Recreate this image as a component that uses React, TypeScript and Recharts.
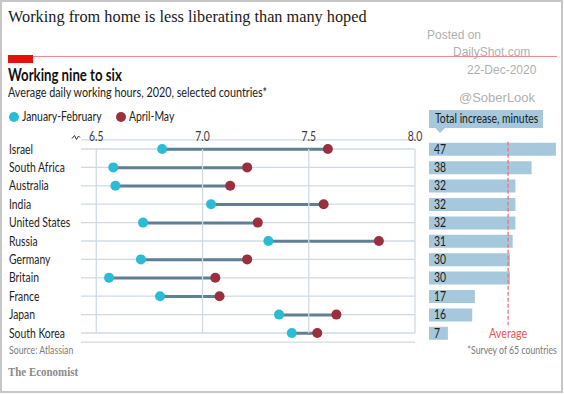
import React from 'react';
import {
  ComposedChart,
  BarChart,
  Bar,
  Line,
  XAxis,
  YAxis,
  CartesianGrid,
  ReferenceLine,
  LabelList,
} from 'recharts';

const countries = [
  'Israel',
  'South Africa',
  'Australia',
  'India',
  'United States',
  'Russia',
  'Germany',
  'Britain',
  'France',
  'Japan',
  'South Korea',
];
const janFeb = [6.81, 6.58, 6.59, 7.04, 6.72, 7.31, 6.71, 6.56, 6.8, 7.36, 7.42];
const aprMay = [7.59, 7.21, 7.13, 7.57, 7.26, 7.83, 7.21, 7.06, 7.08, 7.63, 7.54];
const increaseMinutes = [47, 38, 32, 32, 32, 31, 30, 30, 17, 16, 7];
const averageIncrease = 29.3;
const hourTicks = [6.5, 7.0, 7.5, 8.0];
const hourDomain = [6.428, 8.0];
const minuteDomain = [0, 50];

const data = countries.map((c, i) => ({
  country: c,
  jan: janFeb[i],
  apr: aprMay[i],
  range: [janFeb[i], aprMay[i]],
  inc: increaseMinutes[i],
}));

const TEAL = '#2bbcd5';
const MAROON = '#9a2f3e';
const STEM = '#5f7f95';
const GRID = '#cfdbe4';
const BAR = '#a6c8dc';
const RED = '#e3120b';
const SANS = 'Lato, "Open Sans", sans-serif';
const SERIF = '"Liberation Serif", "DejaVu Serif", serif';
const SQ = 0.83; // horizontal condensing of the sans text

const W = 564;
const H = 394;
const TOP = 139.8;
const BOTTOM = H - 342.2;
const LEFT_TEXT = 8;
const YAXIS_W = 73;

const CountryTick = (props: any) => {
  const { y, payload } = props;
  return (
    <text
      transform={`translate(${LEFT_TEXT + 1},${y + 4.5}) scale(${SQ},1)`}
      textAnchor="start"
      fill="#1e1e1e"
      fontSize={12.5}
      fontFamily={SANS}
    >
      {payload.value}
    </text>
  );
};

const HourTick = (props: any) => {
  const { x, y, payload } = props;
  return (
    <text
      transform={`translate(${x},${y + 5}) scale(${SQ},1)`}
      textAnchor="middle"
      fill="#3a3a3a"
      fontSize={12.5}
      fontFamily={SANS}
    >
      {payload.value.toFixed(1)}
    </text>
  );
};

const BarValue = (props: any) => {
  const { x, y, height, value } = props;
  return (
    <text
      transform={`translate(${x + 5},${y + height / 2 + 4.3}) scale(${SQ},1)`}
      textAnchor="start"
      fill="#1a1a1a"
      fontSize={12.5}
      fontFamily={SANS}
    >
      {value}
    </text>
  );
};

const AvgShape = (props: any) => {
  const { x1, y1, y2 } = props;
  const top = Math.min(y1, y2);
  const bottom = Math.max(y1, y2);
  return (
    <g>
      <line x1={x1} y1={top + 2} x2={x1} y2={bottom - 17} stroke="#e4787b" strokeWidth={1.3} strokeDasharray="4 2" />
      <text
        transform={`translate(${x1},${bottom - 4}) scale(${SQ},1)`}
        textAnchor="middle"
        fill="#e5585b"
        fontSize={13}
        fontFamily={SANS}
      >
        Average
      </text>
    </g>
  );
};

const CText = ({
  left,
  top,
  size,
  children,
  color = '#222',
  weight = 400,
  align = 'left',
  family = SANS,
  sx = SQ,
}: any) => (
  <div
    style={{
      position: 'absolute',
      left: align === 'left' ? left : undefined,
      right: align === 'right' ? W - left : undefined,
      top,
      whiteSpace: 'nowrap',
      lineHeight: 1,
      fontFamily: family,
      fontSize: size,
      fontWeight: weight,
      color,
      transform: `scaleX(${sx})`,
      transformOrigin: align === 'right' ? 'right' : 'left',
    }}
  >
    {children}
  </div>
);

const WM = '"Liberation Sans", Arial, sans-serif';

export default function App() {
  return (
    <div
      style={{
        position: 'absolute',
        left: 0,
        top: 0,
        width: W,
        height: H,
        background: '#fff',
        overflow: 'hidden',
      }}
    >
      {/* outer frame */}
      <div
        style={{
          position: 'absolute',
          left: 0,
          top: 0,
          width: 563,
          height: 393,
          border: '2px solid #c6c6c6',
          boxSizing: 'border-box',
        }}
      />
      <CText left={8} top={9} size={16.3} family={SERIF} color="#1a1a1a" sx={1}>
        Working from home is less liberating than many hoped
      </CText>

      {/* watermark */}
      <CText left={427} top={29} size={12} family={WM} color="#b0b0b0" sx={1}>Posted on</CText>
      <CText left={453} top={46} size={12} family={WM} color="#b0b0b0" sx={1}>DailyShot.com</CText>
      <CText left={467} top={64} size={12} family={WM} color="#b0b0b0" sx={1}>22-Dec-2020</CText>
      <CText left={459} top={91} size={13} family={WM} color="#b0b0b0" sx={1}>@SoberLook</CText>

      {/* red rule */}
      <div style={{ position: 'absolute', left: 8, top: 55.5, width: 549, height: 1, background: '#f08a8a' }} />
      <div style={{ position: 'absolute', left: 8, top: 55, width: 25, height: 8, background: RED }} />

      <CText left={8} top={67} size={16.5} weight={700} color="#111" sx={0.8}>Working nine to six</CText>
      <CText left={8} top={86} size={13} color="#222">
        Average daily working hours, 2020, selected countries*
      </CText>

      {/* legend */}
      <div style={{ position: 'absolute', left: 9, top: 112, width: 10, height: 10, borderRadius: 5, background: TEAL }} />
      <CText left={22} top={111} size={12.5}>January-February</CText>
      <div style={{ position: 'absolute', left: 116, top: 112, width: 10, height: 10, borderRadius: 5, background: MAROON }} />
      <CText left={129} top={111} size={12.5}>April-May</CText>

      {/* axis break mark */}
      <svg style={{ position: 'absolute', left: 0, top: 0 }} width={W} height={H}>
        <path d="M72 138.5 L74.5 135.5 L76.5 139.5 L78.5 136 L80 137.5" fill="none" stroke="#333" strokeWidth={1} />
      </svg>

      {/* dumbbell chart */}
      <div style={{ position: 'absolute', left: 0, top: 0 }}>
        <ComposedChart
          width={W}
          height={H}
          layout="vertical"
          data={data}
          margin={{ top: TOP - 20, bottom: BOTTOM, left: LEFT_TEXT, right: W - 415 }}
          barCategoryGap={0}
        >
          <CartesianGrid horizontal={true} vertical={false} stroke={GRID} strokeWidth={1.3} />
          <XAxis
            type="number"
            orientation="top"
            domain={hourDomain}
            ticks={hourTicks}
            allowDataOverflow
            height={20}
            axisLine={false}
            tickLine={false}
            tickSize={0}
            tickMargin={4}
            tick={<HourTick />}
          />
          <YAxis
            type="category"
            dataKey="country"
            width={YAXIS_W}
            axisLine={false}
            tickLine={false}
            tick={<CountryTick />}
            interval={0}
          />
          {hourTicks.map((t) => (
            <ReferenceLine
              key={t}
              segment={[
                { x: t, y: countries[0] },
                { x: t, y: countries[countries.length - 1] },
              ]}
              stroke={GRID}
              strokeWidth={1.3}
            />
          ))}
          <Bar dataKey="range" barSize={3} fill={STEM} isAnimationActive={false} />
          <Line
            dataKey="jan"
            stroke="none"
            dot={{ r: 5, fill: TEAL, stroke: 'none' }}
            activeDot={false}
            isAnimationActive={false}
          />
          <Line
            dataKey="apr"
            stroke="none"
            dot={{ r: 5, fill: MAROON, stroke: 'none' }}
            activeDot={false}
            isAnimationActive={false}
          />
        </ComposedChart>
      </div>

      {/* increase bars */}
      <div style={{ position: 'absolute', left: 0, top: 0 }}>
        <BarChart
          width={W}
          height={H}
          layout="vertical"
          data={data}
          margin={{ top: TOP, bottom: BOTTOM, left: 429, right: 0 }}
          barCategoryGap={0}
        >
          <XAxis type="number" domain={minuteDomain} hide />
          <YAxis type="category" dataKey="country" hide />
          <Bar dataKey="inc" barSize={13} fill={BAR} isAnimationActive={false}>
            <LabelList dataKey="inc" content={<BarValue />} />
          </Bar>
          <ReferenceLine x={averageIncrease} shape={<AvgShape />} />
        </BarChart>
      </div>

      {/* bar header box */}
      <div style={{ position: 'absolute', left: 429, top: 110, width: 114, height: 18, background: BAR }} />
      <CText left={435} top={113} size={12.5} color="#1a1a1a">Total increase, minutes</CText>
      <svg style={{ position: 'absolute', left: 0, top: 0 }} width={W} height={H}>
        <path d="M435 127.5 L445.5 127.5 L440 133 Z" fill={BAR} />
      </svg>

      {/* footer */}
      <CText left={9} top={345} size={10.5} color="#7a7a7a">Source: Atlassian</CText>
      <CText left={557} top={345} size={10.5} color="#7a7a7a" align="right">*Survey of 65 countries</CText>
      <CText left={8} top={367} size={11.5} weight={700} family={SERIF} color="#8a8a8a" sx={0.95}>The Economist</CText>
    </div>
  );
}
